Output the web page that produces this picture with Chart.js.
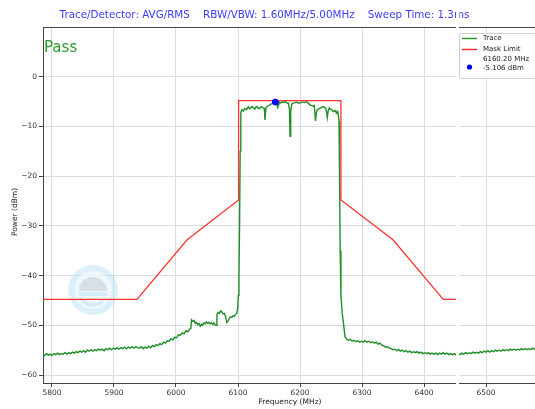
<!DOCTYPE html>
<html>
<head>
<meta charset="utf-8">
<script src="https://cdn.jsdelivr.net/npm/chart.js@4.4.1/dist/chart.umd.min.js"></script>
<style>
  html, body { margin: 0; padding: 0; background: #fff; overflow: hidden; }
  #wrap { width: 535px; height: 409px; position: relative; overflow: hidden; }
  #maskChart { display: block; }
</style>
</head>
<body>
<div id="wrap"><canvas id="maskChart" width="540" height="409"></canvas></div>
<script>
// Spectrum trace (MHz / dBm)
const traceFreq = [
  5785, 5788, 5791, 5794, 5797, 5800, 5803, 5806, 5809, 5812, 5815, 5818, 5821, 5824, 5827, 5830,
  5833, 5836, 5839, 5842, 5845, 5848, 5851, 5854, 5857, 5860, 5863, 5866, 5869, 5872, 5875, 5878,
  5881, 5884, 5887, 5890, 5893, 5896, 5899, 5902, 5905, 5908, 5911, 5914, 5917, 5920, 5923, 5926,
  5929, 5932, 5935, 5938, 5941, 5944, 5947, 5950, 5953, 5956, 5959, 5962, 5965, 5968, 5971, 5974,
  5977, 5980, 5983, 5986, 5989, 5992, 5995, 5998, 6001, 6004, 6007, 6010, 6013, 6016, 6019, 6022,
  6024, 6025, 6027, 6029, 6031, 6033, 6035, 6037, 6039, 6041, 6043, 6045, 6047, 6049, 6051, 6053,
  6055, 6057, 6059, 6061, 6063, 6065, 6066, 6068, 6070, 6072, 6074, 6076, 6078, 6080, 6082, 6084,
  6086, 6088, 6090, 6092, 6094, 6096, 6098, 6099.5, 6100.5, 6101.5, 6102.5, 6103.5, 6104.5,
  6106, 6108.5, 6111, 6114, 6116.5, 6118.5, 6120.5, 6122.5, 6124.5, 6127, 6129, 6131, 6133, 6135.5,
  6137.5, 6139, 6141, 6142.5, 6143.5, 6145, 6147, 6149, 6151, 6153, 6155, 6157, 6160.2, 6162.5,
  6163.5, 6164, 6165, 6166, 6168, 6170.5, 6173, 6175.8, 6178, 6179.5, 6181, 6183, 6184, 6185,
  6186.6, 6189, 6192, 6194.7, 6197, 6200, 6203, 6205.3, 6208, 6210.8, 6213, 6214.5, 6217, 6219,
  6221, 6223, 6225, 6226.5, 6228, 6230, 6232.3, 6235, 6237.6, 6240, 6241.5, 6243, 6244, 6245.5,
  6247.3, 6249, 6251, 6253.7, 6256.5, 6258, 6259.2, 6260.8, 6261.8, 6262.9, 6263.8, 6264.8, 6266,
  6268, 6270, 6272.6, 6275.3, 6278, 6281, 6284, 6287, 6290, 6293, 6296, 6299, 6302, 6305, 6308,
  6311, 6314, 6317, 6320, 6323, 6326, 6329, 6332, 6335, 6338, 6341, 6344, 6347, 6350, 6353, 6356,
  6359, 6362, 6365, 6368, 6371, 6374, 6377, 6380, 6383, 6386, 6389, 6392, 6395, 6398, 6401, 6404,
  6407, 6410, 6413, 6416, 6419, 6422, 6425, 6428, 6431, 6434, 6437, 6440, 6443, 6446, 6449, 6452,
  6455, 6458, 6461, 6464, 6467, 6470, 6473, 6476, 6479, 6482, 6485, 6488, 6491, 6494, 6497, 6500,
  6503, 6506, 6509, 6512, 6515, 6518, 6521, 6524, 6527, 6530, 6533, 6536, 6539, 6542, 6545, 6548,
  6551, 6554, 6557, 6560, 6563, 6566, 6569, 6572, 6575, 6578, 6581
];
const tracePower = [
  -55.8, -56.1, -55.7, -56.0, -55.8, -56.1, -55.7, -55.9, -55.6, -55.9, -55.7, -55.8, -55.5, -55.8, -55.5, -55.7,
  -55.4, -55.6, -55.3, -55.5, -55.2, -55.4, -55.1, -55.4, -55.0, -55.2, -54.9, -55.2, -54.9, -55.1, -54.8, -55.0,
  -54.8, -55.1, -54.7, -54.9, -54.6, -54.9, -54.6, -54.8, -54.5, -54.8, -54.5, -54.7, -54.4, -54.7, -54.4, -54.6,
  -54.3, -54.6, -54.3, -54.5, -54.6, -54.3, -54.7, -54.4, -54.6, -54.2, -54.5, -54.1, -54.3, -53.9, -54.1, -53.7,
  -53.9, -53.4, -53.6, -53.1, -53.2, -52.7, -52.9, -52.4, -52.5, -51.9, -52.0, -51.5, -51.7, -51.1, -51.3, -50.8,
  -50.6, -48.9, -49.2, -49.0, -49.6, -49.4, -49.9, -49.6, -50.2, -49.8, -50.0, -49.5, -49.7, -49.3, -49.6, -49.4,
  -49.7, -49.5, -49.8, -49.5, -49.9, -50.0, -47.8, -47.4, -47.6, -47.1, -47.3, -47.7, -47.6, -48.2, -49.4, -49.1,
  -48.6, -48.3, -48.4, -48.1, -48.2, -47.8, -47.6, -46.5, -44.0, -40.5, -30.0, -15.0, -7.3,
  -6.6, -6.9, -6.4, -6.6, -6.0, -6.4, -6.3, -6.0, -6.2, -6.5, -6.1, -6.0, -6.4, -6.3,
  -6.0, -6.1, -6.3, -6.4, -8.7, -6.3, -6.0, -5.8, -5.7, -5.5, -5.4, -5.3, -5.106, -5.3,
  -5.8, -6.4, -5.6, -5.1, -5.3, -5.1, -5.2, -5.0, -5.2, -5.3, -5.3, -6.5, -12.0, -7.0,
  -5.5, -5.3, -5.2, -5.1, -5.3, -5.3, -5.1, -5.1, -5.2, -5.0, -5.3, -5.5, -5.7, -5.8,
  -5.9, -5.8, -8.9, -7.2, -6.6, -6.5, -6.3, -6.1, -6.0, -6.2, -6.4, -7.2, -8.2, -6.8,
  -6.3, -6.5, -6.6, -7.0, -6.8, -7.1, -7.3, -7.0, -7.6, -9.0, -20.0, -35.0, -44.0,
  -47.5, -49.5, -52.3, -52.8, -53.0, -52.8, -53.2, -53.0, -53.3, -53.1, -53.4, -53.2, -53.4, -53.1, -53.4,
  -53.2, -53.5, -53.3, -53.6, -53.4, -53.8, -53.6, -54.0, -54.1, -54.4, -54.3, -54.6, -54.7, -54.9, -54.8, -55.1,
  -54.9, -55.2, -55.0, -55.3, -55.1, -55.4, -55.2, -55.5, -55.3, -55.5, -55.3, -55.6, -55.4, -55.7, -55.5, -55.7,
  -55.5, -55.8, -55.6, -55.8, -55.6, -55.9, -55.6, -55.8, -55.5, -55.8, -55.6, -55.9, -55.7, -55.9, -55.7, -56.0,
  -55.8, -55.9, -55.6, -55.8, -55.5, -55.7, -55.5, -55.7, -55.4, -55.6, -55.4, -55.6, -55.3, -55.5, -55.2, -55.4,
  -55.1, -55.4, -55.1, -55.3, -55.0, -55.2, -55.0, -55.2, -54.9, -55.1, -54.9, -55.1, -54.8, -55.0, -54.8, -55.0,
  -54.8, -55.0, -54.7, -54.9, -54.7, -54.9, -54.7, -54.9, -54.6, -54.8, -54.7
];

// Spectrum emission mask
const maskFreq = [5780, 5937, 6018, 6101, 6101, 6266, 6266, 6350, 6431, 6457];
const maskPower = [-44.8, -44.8, -32.8, -24.8, -4.8, -4.8, -24.8, -32.8, -44.8, -44.8];

// Peak marker
const markerFreq = [6160.2];
const markerPower = [-5.106];

// Axis ticks
const freqTicks = [5800, 5900, 6000, 6100, 6200, 6300, 6400, 6500];
const powerTicks = [0, -10, -20, -30, -40, -50, -60];

const titleText = 'Trace/Detector: AVG/RMS    RBW/VBW: 1.60MHz/5.00MHz    Sweep Time: 1.3ms';
const legendLabels = ['Trace', 'Mask Limit', '6160.20 MHz', '-5.106 dBm'];
const verdictText = 'Pass';

const FONT = '"DejaVu Sans", sans-serif';

function toPoints(xs, ys) {
  return xs.map((x, i) => ({ x: x, y: ys[i] }));
}

// extras: title, axis labels, legend, watermark, the white break stripe
const decorPlugin = {
  id: 'decor',
  beforeDatasetsDraw(chart) {
    const ctx = chart.ctx;
    // faint logo watermark
    ctx.save();
    ctx.globalAlpha = 0.5;
    ctx.fillStyle = '#b8e2f5';
    ctx.beginPath(); ctx.arc(93, 290, 25, 0, Math.PI * 2); ctx.fill();
    ctx.fillStyle = '#ffffff';
    ctx.beginPath(); ctx.arc(93, 290, 19, 0, Math.PI * 2); ctx.fill();
    ctx.fillStyle = '#c3c7d4';
    ctx.beginPath(); ctx.arc(93, 291, 14, Math.PI, 0); ctx.fill();
    ctx.fillStyle = '#b8e2f5';
    ctx.fillRect(79, 292, 28, 4);
    ctx.beginPath(); ctx.arc(93, 291, 14, 0.25 * Math.PI, 0.85 * Math.PI); ctx.lineWidth = 3; ctx.strokeStyle = '#b8e2f5'; ctx.stroke();
    ctx.restore();
  },
  afterDraw(chart) {
    const ctx = chart.ctx;
    const a = chart.chartArea;
    ctx.save();

    // top spine
    ctx.strokeStyle = '#444';
    ctx.lineWidth = 1;
    ctx.beginPath();
    ctx.moveTo(a.left, a.top + 0.5);
    ctx.lineTo(a.right, a.top + 0.5);
    ctx.stroke();

    // title
    ctx.fillStyle = '#3b3bff';
    ctx.font = '10.35px ' + FONT;
    ctx.textAlign = 'center';
    ctx.textBaseline = 'middle';
    ctx.fillText(titleText, 264.5, 15);

    // axis titles
    ctx.fillStyle = '#222';
    ctx.font = '7.5px ' + FONT;
    ctx.fillText('Frequency (MHz)', 290, 402);
    ctx.save();
    ctx.translate(15, 212);
    ctx.rotate(-Math.PI / 2);
    ctx.fillText('Power (dBm)', 0, 0);
    ctx.restore();

    // verdict
    ctx.fillStyle = '#2b9a2b';
    ctx.font = '15px ' + FONT;
    ctx.textAlign = 'left';
    ctx.textBaseline = 'alphabetic';
    ctx.fillText(verdictText, a.left + 1, 52);

    // break stripe
    ctx.fillStyle = '#ffffff';
    ctx.fillRect(456, 0, 3, 409);

    // legend box
    ctx.fillStyle = 'rgba(255,255,255,0.85)';
    ctx.strokeStyle = '#d0d0d0';
    ctx.lineWidth = 1;
    ctx.beginPath();
    ctx.roundRect(459.5, 33.5, 80, 45, 2);
    ctx.fill();
    ctx.stroke();

    ctx.lineWidth = 1.5;
    ctx.strokeStyle = '#2e9a2e';
    ctx.beginPath(); ctx.moveTo(462, 38.5); ctx.lineTo(477, 38.5); ctx.stroke();
    ctx.strokeStyle = '#ff2a2a';
    ctx.beginPath(); ctx.moveTo(462, 49.5); ctx.lineTo(477, 49.5); ctx.stroke();
    ctx.fillStyle = '#0000ff';
    ctx.beginPath(); ctx.arc(469.5, 67, 2.6, 0, Math.PI * 2); ctx.fill();

    ctx.fillStyle = '#222';
    ctx.font = '7px ' + FONT;
    ctx.textBaseline = 'middle';
    ctx.fillText(legendLabels[0], 483, 38.5);
    ctx.fillText(legendLabels[1], 483, 49.5);
    ctx.fillText(legendLabels[2], 483, 59.5);
    ctx.fillText(legendLabels[3], 483, 68);

    ctx.restore();
  }
};

const ctx = document.getElementById('maskChart').getContext('2d');
new Chart(ctx, {
  type: 'scatter',
  data: {
    datasets: [
      {
        label: 'Peak',
        data: toPoints(markerFreq, markerPower),
        backgroundColor: '#0000ff',
        borderColor: '#0000ff',
        pointRadius: 3,
        showLine: false,
        order: 0
      },
      {
        label: 'Mask Limit',
        data: toPoints(maskFreq, maskPower),
        borderColor: '#ff3333',
        borderWidth: 1.3,
        pointRadius: 0,
        showLine: true,
        order: 1
      },
      {
        label: 'Trace',
        data: toPoints(traceFreq, tracePower),
        borderColor: '#1f8f26',
        borderWidth: 1.4,
        pointRadius: 0,
        showLine: true,
        order: 2
      }
    ]
  },
  options: {
    responsive: false,
    animation: false,
    layout: { padding: { top: 27, left: 0, right: 0, bottom: 0 } },
    plugins: {
      legend: { display: false },
      tooltip: { enabled: false }
    },
    scales: {
      x: {
        type: 'linear',
        min: 5785.5,
        max: 6579,
        afterBuildTicks(scale) { scale.ticks = freqTicks.map(v => ({ value: v })); },
        afterFit(scale) {
          scale.height = 26;
          scale.paddingLeft = 0;
          scale.paddingRight = 0;
        },
        ticks: {
          color: '#333',
          font: { family: FONT, size: 7.5 },
          padding: 2,
          maxRotation: 0,
          autoSkip: false,
          callback: v => String(v)
        },
        grid: { color: '#dcdcdc', lineWidth: 1, tickLength: 4, tickColor: '#444' },
        border: { color: '#444', width: 1 }
      },
      y: {
        min: -61.6,
        max: 10,
        afterBuildTicks(scale) { scale.ticks = powerTicks.map(v => ({ value: v })); },
        afterFit(scale) {
          scale.width = 43;
          scale.paddingTop = 0;
          scale.paddingBottom = 0;
        },
        ticks: {
          color: '#333',
          font: { family: FONT, size: 7.5 },
          padding: 2,
          autoSkip: false,
          callback: v => (v < 0 ? '\u2212' + Math.abs(v) : String(v))
        },
        grid: { color: '#dcdcdc', lineWidth: 1, tickLength: 4, tickColor: '#444' },
        border: { color: '#444', width: 1 }
      }
    }
  },
  plugins: [decorPlugin]
});
</script>
</body>
</html>
